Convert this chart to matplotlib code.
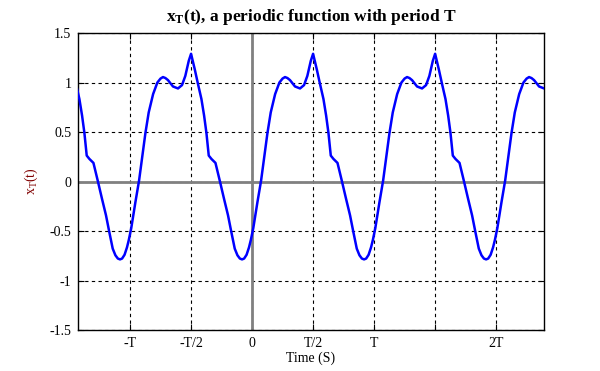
import numpy as np
import matplotlib
matplotlib.use("Agg")
import matplotlib.pyplot as plt

plt.rcParams['font.family'] = ['Liberation Serif', 'DejaVu Serif']
plt.rcParams['mathtext.default'] = 'regular'

# One period of x_T(t) (t in units of T, from -T/2 to T/2)
period_t = [-0.500, -0.470, -0.443, -0.415, -0.393, -0.374, -0.355, -0.333, -0.300,
            -0.265, -0.230, -0.197, -0.170, -0.142, -0.120, -0.100, -0.082, -0.065,
            -0.045, -0.025, -0.010, 0.010, 0.044, 0.074, 0.101, 0.126, 0.153, 0.189,
            0.224, 0.250, 0.270, 0.290, 0.311, 0.352, 0.393, 0.426, 0.453, 0.481]
period_x = [1.29, 1.135, 0.984, 0.833, 0.665, 0.49, 0.262, 0.228, 0.188,
            0.01, -0.174, -0.342, -0.51, -0.678, -0.745, -0.778, -0.787, -0.778,
            -0.74, -0.665, -0.59, -0.47, -0.208, 0.01, 0.262, 0.49, 0.698, 0.883,
            1.0, 1.04, 1.055, 1.045, 1.024, 0.96, 0.94, 0.974, 1.067, 1.218]
periods_shown = [-1, 0, 1, 2]

xtick_pos = [-1, -0.5, 0, 0.5, 1, 1.5, 2]
xtick_lbl = ['-T', '-T/2', '0', 'T/2', 'T', '', '2T']
ytick_pos = [-1.5, -1, -0.5, 0, 0.5, 1, 1.5]
ytick_lbl = ['-1.5', '-1', '-0.5', '0', '0.5', '1', '1.5']

t_all = np.concatenate([np.array(period_t) + k for k in periods_shown] + [[periods_shown[-1] + 0.5]])
x_all = np.concatenate([np.array(period_x) for k in periods_shown] + [[period_x[0]]])

fig = plt.figure(figsize=(6.0, 3.71), dpi=100)
ax = fig.add_axes([0.1305, 0.1105, 0.7755, 0.8005])

ax.set_xlim(-1.424, 2.389)
ax.set_ylim(-1.5, 1.5)
ax.set_xticks(xtick_pos)
ax.set_xticklabels(xtick_lbl)
ax.set_yticks(ytick_pos)
ax.set_yticklabels(ytick_lbl)

ax.grid(True, color='black', linestyle=(0, (3, 3)), linewidth=0.8)
ax.axhline(0, color='#808080', linewidth=2, zorder=2.5)
ax.axvline(0, color='#808080', linewidth=2, zorder=2.5)
ax.plot(t_all, x_all, color='#0000ff', linewidth=1.8, zorder=3)

ax.tick_params(direction='in', length=4, width=0.8, top=True, right=True,
               labelsize=10, pad=5)
for s in ax.spines.values():
    s.set_linewidth(1.0)

ax.set_title('x$_T$(t), a periodic function with period T', fontsize=12.5,
             fontweight='bold', pad=9)
ax.set_xlabel('Time (S)', fontsize=10, labelpad=1)
ax.set_ylabel('x$_T$(t)', fontsize=10, color='#800000', labelpad=7)

fig.savefig('out.png', dpi=100)
